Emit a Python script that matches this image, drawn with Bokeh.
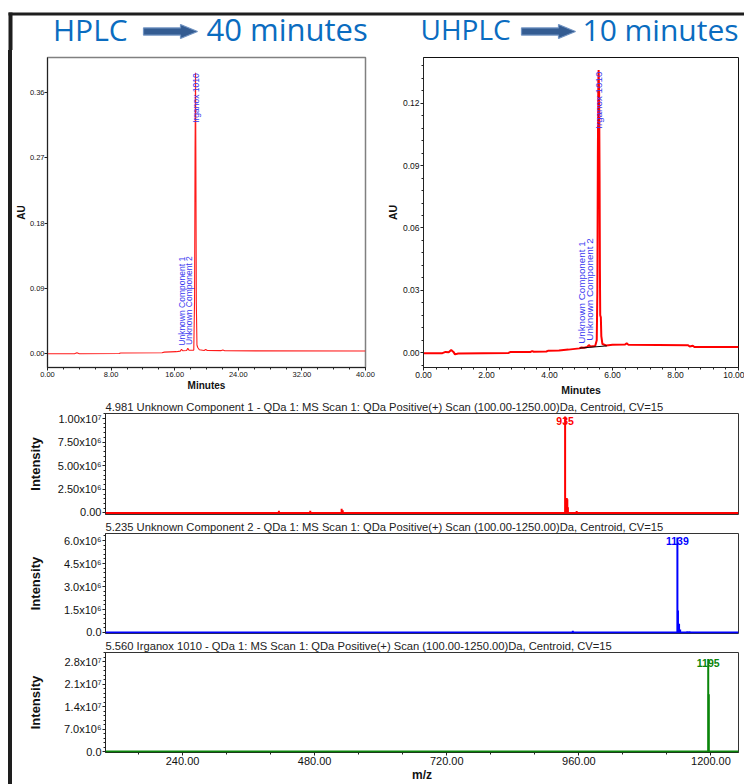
import math
from bokeh.plotting import figure
from bokeh.models import (Range1d, Label, Span, BoxAnnotation, SingleIntervalTicker,
                          FixedTicker, NumeralTickFormatter, Spacer)
from bokeh.layouts import column, row
from bokeh.core.properties import value
from bokeh.embed import file_html
from bokeh.resources import INLINE

# ---------------- data ----------------
# HPLC chromatogram (minutes, AU)
hplc_time = [0.0, 3.4, 3.7, 4.0, 9.0, 9.2, 14.4, 14.7, 16.2, 16.7, 16.86, 17.0, 17.5,
             17.65, 17.8, 18.4, 18.5, 18.56, 18.62, 18.66, 18.72, 18.8, 18.9, 19.1,
             19.7, 19.9, 20.1, 21.8, 22.05, 22.3, 40.0]
hplc_au = [0.0, 0.0, 0.0012, 0.0, 0.0002, 0.001, 0.0014, 0.0022, 0.0028, 0.0036, 0.0062,
           0.0040, 0.0045, 0.0075, 0.0048, 0.0050, 0.075, 0.28, 0.387, 0.28, 0.07, 0.012,
           0.0085, 0.0055, 0.0045, 0.0058, 0.0045, 0.0042, 0.0052, 0.0040, 0.0038]
hplc_label_text = ["Unknown Component 1", "Unknown Component 2", "Irganox 1010"]
hplc_label_time = [16.86, 17.74, 18.62]
hplc_label_au = [0.011, 0.012, 0.318]

# UHPLC chromatogram (minutes, AU)
uhplc_time = [0.0, 0.6, 0.7, 0.8, 0.88, 0.95, 1.0, 1.1, 2.7, 2.75, 3.4, 3.45, 3.5, 3.9,
              3.95, 4.3, 4.6, 4.95, 5.0, 5.1, 5.2, 5.25, 5.3, 5.45, 5.5, 5.52, 5.535, 5.55,
              5.56, 5.575, 5.59, 5.6, 5.61, 5.63, 5.645, 5.68, 5.8, 6.0, 6.4, 6.45, 6.5,
              8.4, 8.45, 8.55, 8.6, 10.0]
uhplc_au = [-0.0003, -0.0002, 0.0004, 0.0002, 0.0013, 0.0004, -0.0008, -0.0004, -0.0001,
            0.0003, 0.0004, 0.0008, 0.0005, 0.0006, 0.0009, 0.0011, 0.0015, 0.0021, 0.0025,
            0.0024, 0.0028, 0.0037, 0.0030, 0.0032, 0.006, 0.03, 0.094, 0.13, 0.136, 0.125,
            0.083, 0.04, 0.018, 0.017, 0.008, 0.0042, 0.0035, 0.0038, 0.004, 0.0046, 0.0039,
            0.0036, 0.003, 0.0034, 0.0028, 0.0027]
uhplc_label_text = ["Unknown Component 1", "Unknown Component 2", "Irganox 1010"]
uhplc_label_time = [5.03, 5.26, 5.57]
uhplc_label_au = [0.0043, 0.0058, 0.1077]
uhplc_base_time = [4.96, 5.82]
uhplc_base_au = [0.0022, 0.0033]

# MS spectra (m/z, intensity)
ms_titles = [
    "4.981 Unknown Component 1 - QDa 1: MS Scan 1: QDa Positive(+) Scan (100.00-1250.00)Da, Centroid, CV=15",
    "5.235 Unknown Component 2 - QDa 1: MS Scan 1: QDa Positive(+) Scan (100.00-1250.00)Da, Centroid, CV=15",
    "5.560 Irganox 1010 - QDa 1: MS Scan 1: QDa Positive(+) Scan (100.00-1250.00)Da, Centroid, CV=15",
]
ms1_mz = [415, 472, 529, 531, 563, 935, 938, 939, 940, 956]
ms1_int = [2.5e5, 2.5e5, 4.5e5, 3.0e5, 0.7e5, 1.02e7, 1.58e6, 1.45e6, 6.0e5, 2.0e5]
ms2_mz = [949, 1139, 1140, 1142, 1144, 1157, 1161]
ms2_int = [1.1e5, 6.2e6, 1.43e6, 5.7e5, 2.0e5, 6e4, 6e4]
ms3_mz = [1195, 1196]
ms3_int = [2.88e7, 1.78e7]
ms_peak_labels = ["935", "1139", "1195"]
ms_peak_mz = [935, 1139, 1195]

ms1_yticks = [0, 2.5e6, 5.0e6, 7.5e6, 1.0e7]
ms1_yticklabels = ["0.00", "2.50x10\u2076", "5.00x10\u2076", "7.50x10\u2076", "1.00x10\u2077"]
ms2_yticks = [0, 1.5e6, 3.0e6, 4.5e6, 6.0e6]
ms2_yticklabels = ["0.0", "1.5x10\u2076", "3.0x10\u2076", "4.5x10\u2076", "6.0x10\u2076"]
ms3_yticks = [0, 7.0e6, 1.4e7, 2.1e7, 2.8e7]
ms3_yticklabels = ["0.0", "7.0x10\u2076", "1.4x10\u2077", "2.1x10\u2077", "2.8x10\u2077"]
mz_ticks = [240, 480, 720, 960, 1200]
mz_ticklabels = ["240.00", "480.00", "720.00", "960.00", "1200.00"]

header_texts = ["HPLC", "40 minutes", "UHPLC", "10 minutes"]

FONT = "Liberation Sans"
DARK = "#1e1e1e"
TITLE_BLUE = "#0a6cc0"
LABEL_BLUE = "#3a3af0"

# ---------------- header (page pixels, y measured upward from header bottom) ----------------
hdr = figure(width=744, height=50, x_range=Range1d(0, 744), y_range=Range1d(0, 50),
             output_backend="svg", toolbar_location=None, min_border=0)
hdr.axis.visible = False
hdr.grid.visible = False
hdr.outline_line_color = None
hdr.add_layout(BoxAnnotation(left=8, right=744, bottom=35, top=38, fill_color=DARK,
                             fill_alpha=1, line_color=None))
hdr.add_layout(BoxAnnotation(left=8, right=12, bottom=0, top=38, fill_color=DARK,
                             fill_alpha=1, line_color=None))
for txt, x, fs in zip(header_texts, [52.5, 206, 420, 582], ["30px", "31px", "28px", "30px"]):
    hdr.add_layout(Label(x=x, y=21.5, text=txt, text_font="Open Sans", text_font_size=fs,
                         text_color=TITLE_BLUE, text_baseline="middle", text_align="left"))
arrow_dx = [0, 37, 37, 54, 37, 37, 0]
arrow_dy = [-3.6, -3.6, -7.0, 0, 7.0, 3.6, 3.6]
for x0 in [143, 521]:
    hdr.patch([x0 + d for d in arrow_dx], [19 + d for d in arrow_dy], fill_color="#345c92",
              line_color="#7093c2", line_width=1.2)


def style_axes(p, tick_size, label_size):
    for ax in p.axis:
        ax.major_label_text_font = FONT
        ax.major_label_text_font_size = tick_size
        ax.major_label_text_color = "#111111"
        ax.axis_label_text_font = FONT
        ax.axis_label_text_font_style = "bold"
        ax.axis_label_text_font_size = label_size
        ax.axis_label_text_color = "#111111"
        ax.major_tick_in = 0
        ax.minor_tick_in = 0
        ax.major_tick_out = 3
        ax.minor_tick_out = 2
        ax.major_label_standoff = 1
        ax.axis_line_color = "#222222"
        ax.major_tick_line_color = "#222222"
        ax.minor_tick_line_color = "#222222"


# ---------------- HPLC ----------------
hp = figure(width=368, height=348, x_range=Range1d(0, 40), y_range=Range1d(-0.019, 0.408),
            output_backend="svg", toolbar_location=None,
            min_border_left=35, min_border_right=15, min_border_top=7, min_border_bottom=28)
hp.grid.visible = False
hp.outline_line_color = "#808080"
hp.outline_line_width = 1.5
hp.line(hplc_time, hplc_au, line_color="#ff1a1a", line_width=1.1)
hp.text(x=hplc_label_time, y=hplc_label_au, text=hplc_label_text, angle=math.pi / 2,
        text_align="left", text_baseline="middle", text_font=value(FONT),
        text_font_size="8.5px", text_color=LABEL_BLUE)
hp.xaxis.ticker = SingleIntervalTicker(interval=8, num_minor_ticks=4)
hp.yaxis.ticker = SingleIntervalTicker(interval=0.09, num_minor_ticks=0)
hp.xaxis.formatter = NumeralTickFormatter(format="0.00")
hp.yaxis.formatter = NumeralTickFormatter(format="0.00")
hp.xaxis.axis_label = "Minutes"
hp.yaxis.axis_label = "AU"
style_axes(hp, "7.5px", "10px")
hp.yaxis.major_label_standoff = 0
hp.xaxis.axis_label_standoff = 0
hp.yaxis.axis_label_standoff = 0

# ---------------- UHPLC ----------------
up = figure(width=364, height=348, x_range=Range1d(0, 10), y_range=Range1d(-0.0071, 0.142),
            output_backend="svg", toolbar_location=None,
            min_border_left=43, min_border_right=6, min_border_top=4, min_border_bottom=29)
up.grid.visible = False
up.outline_line_color = "#111111"
up.line(uhplc_time, uhplc_au, line_color="#ff0000", line_width=2)
up.line(uhplc_base_time, uhplc_base_au, line_color="#000000", line_width=1)
up.text(x=uhplc_label_time, y=uhplc_label_au, text=uhplc_label_text, angle=math.pi / 2,
        text_align="left", text_baseline="middle", text_font=value(FONT),
        text_font_size="9.8px", text_color=LABEL_BLUE)
up.xaxis.ticker = SingleIntervalTicker(interval=2, num_minor_ticks=5)
up.yaxis.ticker = SingleIntervalTicker(interval=0.03, num_minor_ticks=5)
up.xaxis.formatter = NumeralTickFormatter(format="0.00")
up.yaxis.formatter = NumeralTickFormatter(format="0.00")
up.xaxis.axis_label = "Minutes"
up.yaxis.axis_label = "AU"
style_axes(up, "8.5px", "10.5px")
up.xaxis.axis_label_standoff = 3
up.yaxis.axis_label_standoff = 1


# ---------------- MS panels ----------------
def ms_fig(height, top_border, bottom_border, ymin, ymax, mz, inten, color, title, yticks,
           yticklabels, label, label_mz, ylabel_standoff, xaxis):
    p = figure(width=732, height=height, x_range=Range1d(100, 1250), y_range=Range1d(ymin, ymax),
               output_backend="svg", toolbar_location=None,
               min_border_left=93, min_border_right=6, min_border_top=top_border,
               min_border_bottom=bottom_border, x_axis_location="below" if xaxis else None)
    p.grid.visible = False
    p.outline_line_color = "#333333"
    p.title.text = title
    p.title.text_font = FONT
    p.title.text_font_size = "11.2px"
    p.title.text_font_style = "normal"
    p.title.text_color = "#222222"
    p.title.align = "left"
    p.title.standoff = 1
    p.add_layout(Span(location=0, dimension="width", line_color=color, line_width=2))
    p.segment(x0=mz, y0=[0] * len(mz), x1=mz, y1=inten, line_color=color, line_width=2)
    top = inten[mz.index(label_mz)]
    p.text(x=[label_mz], y=[top], text=[label], text_align="center", text_baseline="top",
           text_font=value(FONT), text_font_size="10.5px", text_font_style="bold",
           text_color=color)
    step = yticks[1] - yticks[0]
    minor = [yticks[0] + step * k / 5 for k in range(5 * (len(yticks) - 1) + 3)]
    p.yaxis.ticker = FixedTicker(ticks=yticks, minor_ticks=minor)
    p.yaxis.major_label_overrides = {t: s for t, s in zip(yticks, yticklabels)}
    p.yaxis.axis_label = "Intensity"
    if xaxis:
        p.xaxis.ticker = SingleIntervalTicker(interval=240, num_minor_ticks=3)
        p.xaxis.major_label_overrides = {t: s for t, s in zip(mz_ticks, mz_ticklabels)}
        p.xaxis.axis_label = "m/z"
    style_axes(p, "11px", "13px")
    p.yaxis.axis_label_standoff = ylabel_standoff
    if xaxis:
        p.xaxis.axis_label_standoff = 0
        p.xaxis.axis_label_text_font_size = "12px"
    return p


ms1 = ms_fig(119, 15, 3, -1.6e5, 1.053e7, ms1_mz, ms1_int, "#ff0000", ms_titles[0],
             ms1_yticks, ms1_yticklabels, ms_peak_labels[0], ms_peak_mz[0], 12, False)
ms2 = ms_fig(120, 16, 4, -6.5e4, 6.46e6, ms2_mz, ms2_int, "#0000ff", ms_titles[1],
             ms2_yticks, ms2_yticklabels, ms_peak_labels[1], ms_peak_mz[1], 18, False)
ms3 = ms_fig(147, 15, 31, -3.1e5, 3.08e7, ms3_mz, ms3_int, "#0a850a", ms_titles[2],
             ms3_yticks, ms3_yticklabels, ms_peak_labels[2], ms_peak_mz[2], 18, True)

gap = Spacer(width=8, height=734)
left_bar = Spacer(width=4, height=734, styles={"background-color": DARK})
body = row(gap, left_bar, column(row(hp, up), ms1, ms2, ms3))
layout = column(hdr, body)

open("out.html", "w").write(file_html(layout, INLINE))
